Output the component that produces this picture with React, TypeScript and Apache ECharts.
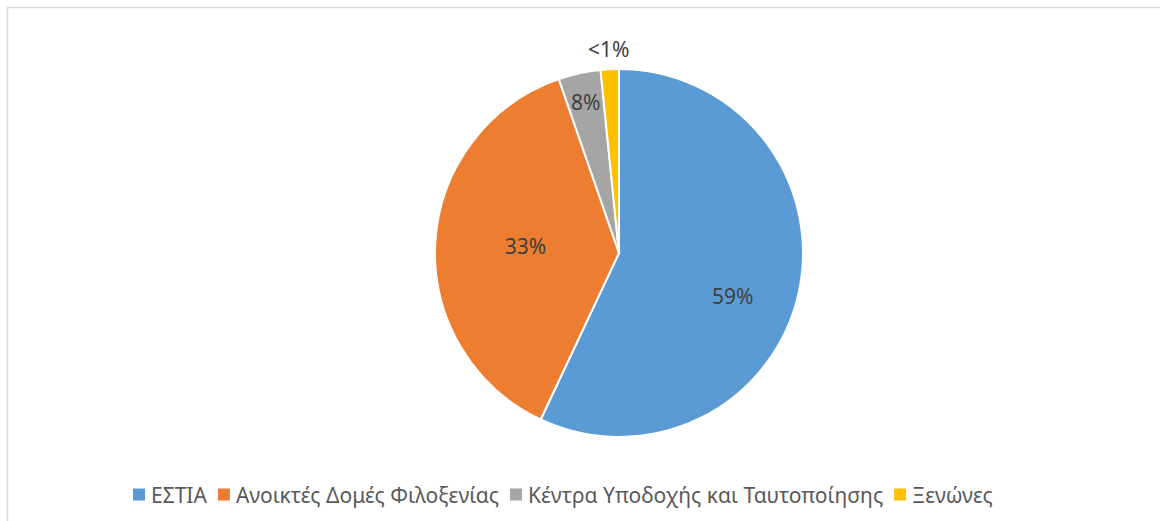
import React, { useEffect, useRef } from "react";
import * as echarts from "echarts";

const categories = ["ΕΣΤΙΑ", "Ανοικτές Δομές Φιλοξενίας", "Κέντρα Υποδοχής και Ταυτοποίησης", "Ξενώνες"];
const values = [57.0, 37.7, 3.7, 1.6];
const labels = ["59%", "33%", "8%", "<1%"];
const colors = ["#5b9bd5", "#ed7d31", "#a5a5a5", "#ffc000"];
const labelRadius = [0.66, 0.51, 0.84, 1.11];
const labelAngleShift = [8, 1, 0, 0];

const CX = 619;
const CY = 253;
const R = 184;

export default function App() {
  const ref = useRef<HTMLDivElement>(null);
  useEffect(() => {
    if (!ref.current) return;
    const chart = echarts.init(ref.current, null, { renderer: "svg" });
    const total = values.reduce((a, b) => a + b, 0);
    const mids: number[] = [];
    let acc = 0;
    values.forEach((v, i) => {
      mids.push(((acc + v / 2) / total) * Math.PI * 2 + (labelAngleShift[i] * Math.PI) / 180);
      acc += v;
    });
    chart.setOption({
      animation: false,
      backgroundColor: "#ffffff",
      color: colors,
      textStyle: { fontFamily: "Noto Sans" },
      graphic: [
        {
          type: "rect",
          shape: { x: 7.5, y: 7.5, width: 1200, height: 600 },
          style: { fill: "none", stroke: "#d9d9d9", lineWidth: 1.5 },
          silent: true,
        },
      ],
      legend: {
        bottom: 16,
        left: 131,
        padding: 0,
        icon: "rect",
        itemWidth: 14,
        itemHeight: 14,
        itemGap: 9,
        textStyle: { fontSize: 21, color: "#595959", fontFamily: "Noto Sans" },
        data: categories,
      },
      series: [
        {
          type: "pie",
          center: [CX, CY],
          radius: [0, R],
          startAngle: 90,
          clockwise: true,
          itemStyle: { borderColor: "#ffffff", borderWidth: 2 },
          label: {
            show: true,
            position: "inside",
            fontSize: 21,
            color: "#404040",
            fontFamily: "Noto Sans",
            formatter: (p: any) => labels[p.dataIndex],
          },
          labelLine: { show: false },
          labelLayout: (p: any) => {
            const i = p.dataIndex;
            const a = mids[i];
            const r = R * labelRadius[i];
            return { x: CX + r * Math.sin(a), y: CY - r * Math.cos(a) };
          },
          emphasis: { disabled: true },
          data: categories.map((name, i) => ({ name, value: values[i] })),
        },
      ],
    });
    return () => chart.dispose();
  }, []);
  return (
    <div
      ref={ref}
      style={{ position: "fixed", left: 0, top: 0, width: 1160, height: 521 }}
    />
  );
}
